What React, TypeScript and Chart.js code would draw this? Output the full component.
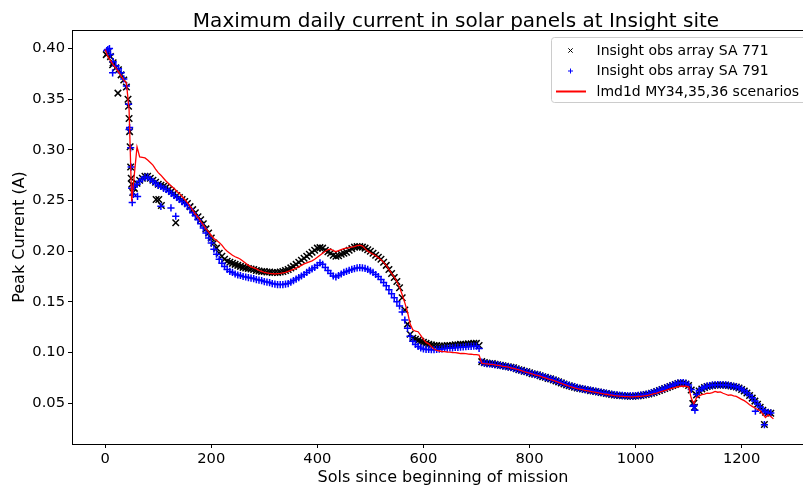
import React, { useEffect, useRef } from 'react';
import { Chart, registerables } from 'chart.js';

Chart.register(...registerables);

const TITLE = 'Maximum daily current in solar panels at Insight site';
const X_LABEL = 'Sols since beginning of mission';
const Y_LABEL = 'Peak Current (A)';
const LEGEND_LABELS = ['Insight obs array SA 771', 'Insight obs array SA 791', 'lmd1d MY34,35,36 scenarios'];
const X_TICKS = [0, 200, 400, 600, 800, 1000, 1200];
const Y_TICKS = [0.05, 0.1, 0.15, 0.2, 0.25, 0.3, 0.35, 0.4];
const X_MIN = -62.6;
const X_MAX = 1325;
const Y_MIN = 0.0097;
const Y_MAX = 0.4183;

// [sol, peak current (A)] for solar array SA 771
const sa771: number[][] = [
  [5,.396],[10,.392],[15,.386],[20,.381],[25,.379],[30,.374],[35,.369],[40,.362],[45,.331],[50,.266],
  [55,.262],[60,.267],[65,.270],[70,.272],[75,.274],[80,.274],[85,.272],[90,.270],[95,.268],[100,.266],
  [105,.265],[110,.264],[115,.263],[120,.261],[125,.259],[130,.257],[135,.255],[140,.253],[145,.251],[150,.249],
  [155,.247],[160,.244],[165,.241],[170,.238],[175,.234],[180,.231],[185,.227],[190,.222],[195,.218],[200,.213],
  [205,.208],[210,.203],[215,.198],[220,.195],[225,.192],[230,.190],[235,.189],[240,.188],[245,.187],[250,.186],
  [255,.185],[260,.184],[265,.1835],[270,.183],[275,.1825],[280,.182],[285,.181],[290,.1805],[295,.180],[300,.180],
  [305,.1795],[310,.1795],[315,.179],[320,.179],[325,.179],[330,.1795],[335,.180],[340,.181],[345,.182],[350,.1835],
  [355,.185],[360,.187],[365,.189],[370,.191],[375,.193],[380,.195],[385,.197],[390,.199],[395,.201],[400,.203],
  [405,.2035],[410,.203],[415,.201],[420,.1995],[425,.198],[430,.196],[435,.195],[440,.1955],[445,.197],[450,.198],
  [455,.199],[460,.201],[465,.2025],[470,.204],[475,.2045],[480,.2045],[485,.204],[490,.203],[495,.2015],[500,.200],
  [505,.198],[510,.196],[515,.194],[520,.192],[525,.189],[530,.186],[535,.182],[540,.178],[545,.174],[550,.170],
  [555,.164],[560,.154],[565,.142],[570,.128],[575,.118],[580,.114],[585,.113],[590,.112],[595,.111],[600,.110],
  [605,.109],[610,.108],[615,.1075],[620,.107],[625,.107],[630,.1065],[635,.1065],[640,.1065],[645,.107],[650,.107],
  [655,.107],[660,.1075],[665,.1075],[670,.108],[675,.108],[680,.108],[685,.1085],[690,.1085],[695,.109],[700,.109],
  [705,.107],[710,.091],[715,.090],[720,.0895],[725,.089],[730,.089],[735,.0885],[740,.088],[745,.0875],[750,.087],
  [755,.0865],[760,.086],[765,.0855],[770,.085],[775,.084],[780,.083],[785,.0825],[790,.0815],[795,.081],[800,.080],
  [805,.079],[810,.0785],[815,.078],[820,.077],[825,.076],[830,.0755],[835,.0745],[840,.074],[845,.073],[850,.072],
  [855,.071],[860,.070],[865,.069],[870,.068],[875,.0672],[880,.0665],[885,.0657],[890,.065],[895,.0645],[900,.064],
  [905,.0635],[910,.063],[915,.0624],[920,.062],[925,.0615],[930,.061],[935,.0605],[940,.060],[945,.0595],[950,.059],
  [955,.0585],[960,.058],[965,.0578],[970,.0575],[975,.0573],[980,.057],[985,.057],[990,.0568],[995,.0568],[1000,.057],
  [1005,.0572],[1010,.0575],[1015,.058],[1020,.0585],[1025,.059],[1030,.0598],[1035,.0605],[1040,.0615],[1045,.0625],[1050,.0635],
  [1055,.0645],[1060,.0655],[1065,.0665],[1070,.0675],[1075,.0685],[1080,.0695],[1085,.070],[1090,.0698],[1095,.069],[1100,.0675],
  [1105,.063],[1110,.050],[1115,.058],[1120,.062],[1125,.064],[1130,.0655],[1135,.0665],[1140,.067],[1145,.0675],[1150,.068],
  [1155,.068],[1160,.068],[1165,.068],[1170,.0678],[1175,.0675],[1180,.067],[1185,.0665],[1190,.066],[1195,.065],[1200,.0635],
  [1205,.062],[1210,.060],[1215,.0575],[1220,.055],[1225,.052],[1230,.049],[1235,.046],[1240,.043],[1245,.041],[1250,.0405],
  [1255,.040],
];
// isolated SA 771 readings (steep drop and outliers)
const sa771Extra: number[][] = [
  [2,.394],[14,.384],[24,.356],[43,.350],[44,.343],[46,.318],[47,.303],[48,.283],[49,.272],[52,.258],
  [96,.251],[101,.251],[106,.245],[133,.228],[1108,.0496],[1111,.046],[1243,.029],
];

// [sol, peak current (A)] for solar array SA 791
const sa791: number[][] = [
  [5,.399],[10,.394],[15,.387],[20,.383],[25,.380],[30,.376],[35,.370],[40,.363],[45,.320],[50,.262],
  [55,.264],[60,.266],[65,.269],[70,.271],[75,.273],[80,.273],[85,.271],[90,.269],[95,.267],[100,.265],
  [105,.264],[110,.262],[115,.261],[120,.259],[125,.257],[130,.255],[135,.253],[140,.251],[145,.249],[150,.247],
  [155,.245],[160,.242],[165,.238],[170,.235],[175,.231],[180,.227],[185,.223],[190,.218],[195,.213],[200,.208],
  [205,.202],[210,.197],[215,.192],[220,.188],[225,.185],[230,.182],[235,.180],[240,.179],[245,.1775],[250,.1765],
  [255,.176],[260,.175],[265,.1745],[270,.174],[275,.1735],[280,.173],[285,.172],[290,.1715],[295,.171],[300,.170],
  [305,.1695],[310,.169],[315,.168],[320,.1675],[325,.167],[330,.167],[335,.167],[340,.1675],[345,.168],[350,.1695],
  [355,.171],[360,.1725],[365,.174],[370,.1755],[375,.177],[380,.179],[385,.181],[390,.1825],[395,.184],[400,.186],
  [405,.1885],[410,.187],[415,.184],[420,.181],[425,.178],[430,.1755],[435,.1745],[440,.176],[445,.1775],[450,.179],
  [455,.180],[460,.181],[465,.182],[470,.1828],[475,.1835],[480,.1838],[485,.1835],[490,.183],[495,.182],[500,.1805],
  [505,.179],[510,.177],[515,.175],[520,.172],[525,.169],[530,.166],[535,.162],[540,.158],[545,.154],[550,.150],
  [555,.146],[560,.140],[565,.132],[570,.124],[575,.116],[580,.111],[585,.108],[590,.106],[595,.1045],[600,.1035],
  [605,.103],[610,.103],[615,.1028],[620,.1028],[625,.103],[630,.1032],[635,.1035],[640,.104],[645,.1042],[650,.1045],
  [655,.1045],[660,.105],[665,.105],[670,.1052],[675,.1055],[680,.1058],[685,.106],[690,.106],[695,.1062],[700,.1062],
  [705,.104],[710,.0905],[715,.0895],[720,.089],[725,.0888],[730,.0885],[735,.088],[740,.0878],[745,.0872],[750,.0868],
  [755,.0862],[760,.0858],[765,.0852],[770,.0845],[775,.0838],[780,.083],[785,.0822],[790,.0815],[795,.0808],[800,.080],
  [805,.0792],[810,.0785],[815,.078],[820,.0772],[825,.0765],[830,.0755],[835,.0748],[840,.074],[845,.0732],[850,.0722],
  [855,.0712],[860,.0702],[865,.0692],[870,.0683],[875,.0675],[880,.0667],[885,.066],[890,.0653],[895,.0647],[900,.0642],
  [905,.0637],[910,.0632],[915,.0627],[920,.0622],[925,.0617],[930,.0612],[935,.0607],[940,.0602],[945,.0598],[950,.0593],
  [955,.0588],[960,.0584],[965,.0581],[970,.0578],[975,.0576],[980,.0574],[985,.0573],[990,.0572],[995,.0572],[1000,.0574],
  [1005,.0576],[1010,.0579],[1015,.0583],[1020,.0588],[1025,.0594],[1030,.0601],[1035,.0609],[1040,.0618],[1045,.0628],[1050,.0638],
  [1055,.0648],[1060,.0658],[1065,.0668],[1070,.0678],[1075,.0688],[1080,.0698],[1085,.0703],[1090,.0702],[1095,.0695],[1100,.068],
  [1105,.0635],[1110,.048],[1115,.0585],[1120,.0625],[1125,.0645],[1130,.0658],[1135,.0668],[1140,.0674],[1145,.0678],[1150,.0682],
  [1155,.0683],[1160,.0683],[1165,.0682],[1170,.068],[1175,.0677],[1180,.0672],[1185,.0667],[1190,.0661],[1195,.0652],[1200,.0638],
  [1205,.0622],[1210,.0602],[1215,.0578],[1220,.0553],[1225,.0522],[1230,.0492],[1235,.0462],[1240,.0435],[1245,.0415],[1250,.0408],
  [1255,.0402],
];
// isolated SA 791 readings (steep drop and outliers)
const sa791Extra: number[][] = [
  [3,.398],[8,.400],[14,.376],[44,.345],[46,.322],[48,.302],[49,.283],[51,.248],[53,.256],[61,.254],
  [105,.2443],[124,.2427],[133,.2345],[1109,.047],[1112,.043],[1226,.042],[1243,.0288],
];

// [sol, modelled peak current (A)] lmd1d MY34,35,36 scenarios
const lmd1d: number[][] = [
  [0,.399],[5,.392],[10,.388],[15,.384],[20,.381],[25,.377],[30,.373],[35,.369],[40,.366],[45,.340],
  [50,.249],[55,.276],[60,.303],[65,.293],[70,.2925],[75,.292],[80,.290],[85,.2875],[90,.285],[95,.281],
  [100,.2775],[105,.275],[110,.272],[115,.269],[120,.2665],[125,.264],[130,.262],[135,.259],[140,.257],[145,.254],
  [150,.251],[155,.248],[160,.2445],[165,.2405],[170,.2365],[175,.2335],[180,.2295],[185,.226],[190,.222],[195,.219],
  [200,.2155],[205,.2125],[210,.2105],[215,.2085],[220,.206],[225,.2025],[230,.200],[235,.198],[240,.196],[245,.1945],
  [250,.1935],[255,.192],[260,.190],[265,.188],[270,.186],[275,.1845],[280,.1835],[285,.1825],[290,.181],[295,.180],
  [300,.179],[305,.1785],[310,.178],[315,.1778],[320,.1775],[325,.1778],[330,.178],[335,.1785],[340,.179],[345,.180],
  [350,.181],[355,.182],[360,.1832],[365,.1845],[370,.186],[375,.1875],[380,.1885],[385,.1895],[390,.1905],[395,.192],
  [400,.194],[405,.196],[410,.198],[415,.200],[420,.2015],[425,.202],[430,.2005],[435,.1995],[440,.2005],[445,.2015],
  [450,.2025],[455,.203],[460,.2035],[465,.204],[470,.2045],[475,.2055],[480,.206],[485,.205],[490,.2025],[495,.200],
  [500,.1985],[505,.197],[510,.1955],[515,.1935],[520,.1915],[525,.189],[530,.186],[535,.182],[540,.178],[545,.1745],
  [550,.170],[555,.1645],[560,.157],[565,.149],[570,.140],[575,.128],[580,.1225],[585,.121],[590,.1205],[595,.117],
  [600,.113],[605,.110],[610,.1085],[615,.106],[620,.1035],[625,.102],[630,.1015],[635,.101],[640,.1008],[645,.1005],
  [650,.1003],[655,.100],[660,.0998],[665,.0995],[670,.099],[675,.099],[680,.0988],[685,.0985],[690,.0983],[695,.098],
  [700,.098],[705,.0975],[710,.0895],[715,.089],[720,.0888],[725,.0884],[730,.0882],[735,.0878],[740,.0874],[745,.087],
  [750,.0864],[755,.086],[760,.0855],[765,.0849],[770,.0843],[775,.0836],[780,.0828],[785,.082],[790,.0812],[795,.0805],
  [800,.0797],[805,.0788],[810,.078],[815,.0774],[820,.0766],[825,.0757],[830,.0749],[835,.074],[840,.0733],[845,.0725],
  [850,.0715],[855,.0705],[860,.0695],[865,.0685],[870,.0676],[875,.0667],[880,.0659],[885,.0651],[890,.0644],[895,.0638],
  [900,.0633],[905,.0627],[910,.0622],[915,.0617],[920,.0612],[925,.0607],[930,.0602],[935,.0597],[940,.0592],[945,.0588],
  [950,.0583],[955,.0579],[960,.0575],[965,.0572],[970,.0569],[975,.0567],[980,.0565],[985,.0564],[990,.0563],[995,.0563],
  [1000,.0564],[1005,.0566],[1010,.0568],[1015,.0571],[1020,.0575],[1025,.058],[1030,.0586],[1035,.0593],[1040,.060],[1045,.0608],
  [1050,.0616],[1055,.0624],[1060,.0632],[1065,.064],[1070,.0648],[1075,.0656],[1080,.0662],[1085,.0667],[1090,.0668],[1095,.0667],
  [1100,.0662],[1105,.055],[1110,.0495],[1115,.0555],[1120,.0572],[1125,.0585],[1130,.059],[1135,.0598],[1140,.0596],[1145,.0604],
  [1150,.0616],[1155,.0608],[1160,.0612],[1165,.0598],[1170,.0588],[1175,.0578],[1180,.0582],[1185,.0572],[1190,.0566],[1195,.0552],
  [1200,.0538],[1205,.0525],[1210,.0506],[1215,.0484],[1220,.0468],[1225,.0452],[1230,.0438],[1235,.0425],[1240,.0392],[1245,.0358],
  [1250,.0385],[1255,.0368],[1260,.0345],
];

const FONT = '"DejaVu Sans", "Liberation Sans", sans-serif';

const toPoints = (rows: number[][]) => rows.map(([x, y]) => ({ x, y }));

const decorPlugin = {
  id: 'decor',
  afterDraw(chart: any) {
    const ctx = chart.ctx;
    const a = chart.chartArea;
    ctx.save();
    // axes frame
    ctx.strokeStyle = '#000';
    ctx.lineWidth = 1;
    ctx.strokeRect(Math.round(a.left) + 0.5, Math.round(a.top) + 0.5, Math.round(a.right - a.left), Math.round(a.bottom - a.top));

    // title and axis labels
    ctx.fillStyle = '#000';
    ctx.textAlign = 'center';
    ctx.textBaseline = 'alphabetic';
    ctx.font = `20px ${FONT}`;
    ctx.fillText(TITLE, 456, 27);
    ctx.font = `16px ${FONT}`;
    ctx.fillText(X_LABEL, 443, 481.5);
    ctx.save();
    ctx.translate(20, 237);
    ctx.rotate(-Math.PI / 2);
    ctx.textBaseline = 'middle';
    ctx.fillText(Y_LABEL, 0, 0);
    ctx.restore();

    // legend
    const lx = 551.5, ly = 37.5, lw = 270, lh = 65, r = 3;
    ctx.beginPath();
    ctx.moveTo(lx + r, ly);
    ctx.lineTo(lx + lw - r, ly);
    ctx.arcTo(lx + lw, ly, lx + lw, ly + r, r);
    ctx.lineTo(lx + lw, ly + lh - r);
    ctx.arcTo(lx + lw, ly + lh, lx + lw - r, ly + lh, r);
    ctx.lineTo(lx + r, ly + lh);
    ctx.arcTo(lx, ly + lh, lx, ly + lh - r, r);
    ctx.lineTo(lx, ly + r);
    ctx.arcTo(lx, ly, lx + r, ly, r);
    ctx.closePath();
    ctx.fillStyle = 'rgba(255,255,255,0.8)';
    ctx.fill();
    ctx.strokeStyle = '#cccccc';
    ctx.stroke();

    const rows = [50.5, 71, 91.5];
    const mx = 570.5;
    // x marker
    ctx.strokeStyle = '#000';
    ctx.lineWidth = 1;
    ctx.beginPath();
    ctx.moveTo(mx - 2.2, rows[0] - 2.2); ctx.lineTo(mx + 2.2, rows[0] + 2.2);
    ctx.moveTo(mx - 2.2, rows[0] + 2.2); ctx.lineTo(mx + 2.2, rows[0] - 2.2);
    ctx.stroke();
    // + marker
    ctx.strokeStyle = '#0000ff';
    ctx.beginPath();
    ctx.moveTo(mx - 2.5, rows[1]); ctx.lineTo(mx + 2.5, rows[1]);
    ctx.moveTo(mx, rows[1] - 2.5); ctx.lineTo(mx, rows[1] + 2.5);
    ctx.stroke();
    // line
    ctx.strokeStyle = '#ff0000';
    ctx.lineWidth = 2;
    ctx.beginPath();
    ctx.moveTo(556, rows[2]); ctx.lineTo(586, rows[2]);
    ctx.stroke();

    ctx.fillStyle = '#000';
    ctx.textAlign = 'left';
    ctx.textBaseline = 'middle';
    ctx.font = `14px ${FONT}`;
    LEGEND_LABELS.forEach((t, i) => ctx.fillText(t, 596.5, rows[i] + 0.5));
    ctx.restore();
  },
};

export default function App() {
  const ref = useRef<HTMLCanvasElement | null>(null);

  useEffect(() => {
    if (!ref.current) return;
    const chart = new Chart(ref.current, {
      type: 'scatter',
      data: {
        datasets: [
          {
            label: LEGEND_LABELS[0],
            data: toPoints(sa771.concat(sa771Extra)),
            pointStyle: 'crossRot',
            pointRadius: 4.6,
            borderColor: '#000000',
            backgroundColor: '#000000',
            borderWidth: 1.5,
            showLine: false,
            order: 2,
          },
          {
            label: LEGEND_LABELS[1],
            data: toPoints(sa791.concat(sa791Extra)),
            pointStyle: 'cross',
            pointRadius: 3.6,
            borderColor: '#0000ff',
            backgroundColor: '#0000ff',
            borderWidth: 1.5,
            showLine: false,
            order: 1,
          },
          {
            label: LEGEND_LABELS[2],
            data: toPoints(lmd1d),
            showLine: true,
            pointRadius: 0,
            borderColor: '#ff0000',
            backgroundColor: '#ff0000',
            borderWidth: 1.3,
            tension: 0,
            order: 0,
          },
        ],
      },
      options: {
        animation: false,
        responsive: false,
        devicePixelRatio: 1,
        layout: { padding: { top: 30, right: 1, left: 0, bottom: 0 } },
        plugins: {
          legend: { display: false },
          title: { display: false },
          tooltip: { enabled: false },
        },
        scales: {
          x: {
            type: 'linear',
            min: X_MIN,
            max: X_MAX,
            afterBuildTicks: (s: any) => { s.ticks = X_TICKS.map((v) => ({ value: v })); },
            afterFit: (s: any) => { s.height = 41; },
            border: { display: false },
            grid: { display: true, drawOnChartArea: false, drawTicks: true, tickLength: 4, color: '#000', tickColor: '#000' },
            ticks: {
              autoSkip: false,
              maxRotation: 0,
              padding: 2,
              color: '#000',
              font: { family: FONT, size: 14.7 },
              callback: (v: any) => String(v),
            },
          },
          y: {
            type: 'linear',
            min: Y_MIN,
            max: Y_MAX,
            afterBuildTicks: (s: any) => { s.ticks = Y_TICKS.map((v) => ({ value: v })); },
            afterFit: (s: any) => { s.width = 72; },
            border: { display: false },
            grid: { display: true, drawOnChartArea: false, drawTicks: true, tickLength: 4, color: '#000', tickColor: '#000' },
            ticks: {
              autoSkip: false,
              padding: 3,
              color: '#000',
              font: { family: FONT, size: 14.7 },
              callback: (v: any) => Number(v).toFixed(2),
            },
          },
        },
      },
      plugins: [decorPlugin],
    } as any);
    return () => chart.destroy();
  }, []);

  return (
    <div style={{ position: 'absolute', left: 0, top: 0, width: 803, height: 485, overflow: 'hidden', background: '#fff' }}>
      <canvas ref={ref} width={814} height={485} style={{ display: 'block', width: 814, height: 485 }} />
    </div>
  );
}
